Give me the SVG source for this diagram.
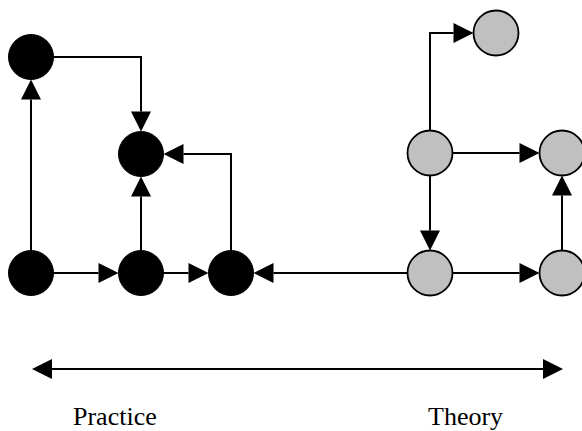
<svg xmlns="http://www.w3.org/2000/svg" width="582" height="431" viewBox="0 0 582 431">
<style>
.c{fill:none;stroke:#000;stroke-width:2;marker-end:url(#ah)}
.b{fill:#000;stroke:#000;stroke-width:1}
.g{fill:#c0c0c0;stroke:#000;stroke-width:1.8}
.t{font-family:"Liberation Serif","Times New Roman",serif;font-size:26px;fill:#000}
</style>
<defs>
<marker id="ah" markerUnits="userSpaceOnUse" markerWidth="20" markerHeight="20" refX="0" refY="10" orient="auto-start-reverse" overflow="visible">
<path d="M0,0 L20,10 L0,20 z" fill="#000"/>
</marker>
</defs>
<rect width="582" height="431" fill="#fff"/>
<g id="connectors">
<path class="c" d="M31,250.5 V99.5"/>
<path class="c" d="M53.5,57 H141 V111.5"/>
<path class="c" d="M141,250.5 V196.5"/>
<path class="c" d="M231,250.5 V154 H183.5"/>
<path class="c" d="M53.5,273 H98.5"/>
<path class="c" d="M163.5,273 H188.5"/>
<path class="c" d="M407.5,273 H273.5"/>
<path class="c" d="M430,130.5 V33 H453.5"/>
<path class="c" d="M452.5,153 H519.5"/>
<path class="c" d="M430,175.5 V230.5"/>
<path class="c" d="M452.5,273 H519.5"/>
<path class="c" d="M562,250.5 V195.5"/>
<path class="c" d="M52,369 H543" style="marker-start:url(#ah)"/>
</g>
<g id="nodeA"><circle class="b" cx="31" cy="57" r="22.5"/></g>
<g id="nodeB"><circle class="b" cx="141" cy="154" r="22.5"/></g>
<g id="nodeC"><circle class="b" cx="31" cy="273" r="22.5"/></g>
<g id="nodeD"><circle class="b" cx="141" cy="273" r="22.5"/></g>
<g id="nodeE"><circle class="b" cx="231" cy="273" r="22.5"/></g>
<g id="nodeF"><circle class="g" cx="496" cy="33" r="22.5"/></g>
<g id="nodeG"><circle class="g" cx="430" cy="153" r="22.5"/></g>
<g id="nodeH"><circle class="g" cx="562" cy="153" r="22.5"/></g>
<g id="nodeI"><circle class="g" cx="430" cy="273" r="22.5"/></g>
<g id="nodeJ"><circle class="g" cx="562" cy="273" r="22.5"/></g>
<g id="labels">
<text class="t" x="73" y="424.5">Practice</text>
<text class="t" x="428" y="424.5">Theory</text>
</g>
</svg>
